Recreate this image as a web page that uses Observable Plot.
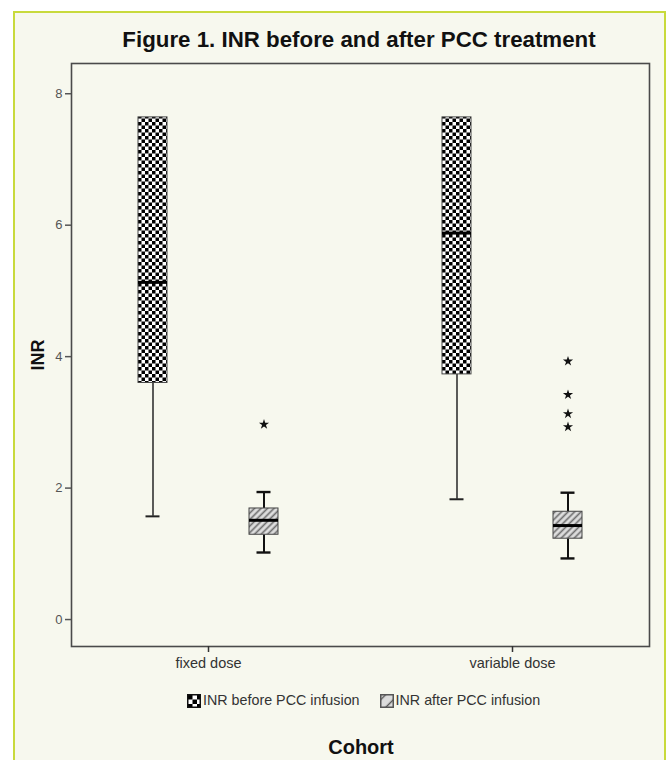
<!DOCTYPE html>
<html><head><meta charset="utf-8">
<script src="https://cdn.jsdelivr.net/npm/d3@7"></script>
<script src="https://cdn.jsdelivr.net/npm/@observablehq/plot@0.6"></script>
<style>
html,body{margin:0;padding:0;background:#fff;overflow:hidden;width:672px;height:760px;}
body{font-family:"Liberation Sans",Arial,sans-serif;position:relative;}
#card{position:absolute;left:13px;top:11px;width:653px;height:760px;box-sizing:border-box;border:2px solid #c8da3c;border-bottom:none;background:#f7f8ee;}
#title{position:absolute;left:359px;top:28px;transform:translateX(-50%);white-space:nowrap;font-weight:bold;font-size:22.3px;line-height:24px;color:#111;}
#chart{position:absolute;left:0;top:52px;}
#legend{position:absolute;left:187px;top:692px;display:flex;align-items:center;font-size:14.3px;color:#333;line-height:17px;white-space:nowrap;}
#legend svg{display:block;}
#xlabel{position:absolute;left:361px;top:735px;transform:translateX(-50%);font-weight:bold;font-size:20px;line-height:24px;color:#111;}
#chart g[aria-label="y-axis label"] text{font-weight:bold;font-size:18px;fill:#111;}
</style>
</head><body>
<svg width="0" height="0" style="position:absolute;left:0;top:0">
<defs>
<pattern id="chk" patternUnits="userSpaceOnUse" width="7" height="7">
 <rect width="7" height="7" fill="#fff"/>
 <rect width="3.5" height="3.5" fill="#000"/>
 <rect x="3.5" y="3.5" width="3.5" height="3.5" fill="#000"/>
</pattern>
<pattern id="hat" patternUnits="userSpaceOnUse" width="4.6" height="4.6" patternTransform="rotate(45)">
 <rect width="4.6" height="4.6" fill="#dedede"/>
 <line x1="2.3" y1="-1" x2="2.3" y2="6" stroke="#6a6a6a" stroke-width="1.6"/>
</pattern>
<pattern id="chkL" patternUnits="userSpaceOnUse" width="9" height="9" x="1" y="1">
 <rect width="9" height="9" fill="#fff"/>
 <rect width="4.5" height="4.5" fill="#000"/>
 <rect x="4.5" y="4.5" width="4.5" height="4.5" fill="#000"/>
</pattern>
<pattern id="hatL" patternUnits="userSpaceOnUse" width="9" height="9" patternTransform="rotate(45)">
 <rect width="9" height="9" fill="#dcdcdc"/>
 <line x1="4.5" y1="-1" x2="4.5" y2="10" stroke="#555" stroke-width="1.4"/>
</pattern>
</defs></svg>
<div id="card"></div>
<div id="title">Figure 1. INR before and after PCC treatment</div>
<div id="chart"></div>
<div id="legend"></div>
<div id="xlabel">Cohort</div>
<script>
const cohorts = ["fixed dose", "variable dose"];
const series = ["INR before PCC infusion", "INR after PCC infusion"];
const yTicks = [0, 2, 4, 6, 8];

// one entry per box: fixed-before, fixed-after, variable-before, variable-after
const boxCohort = ["fixed dose", "fixed dose", "variable dose", "variable dose"];
const boxSeries = [series[0], series[1], series[0], series[1]];
const whiskerLow = [1.57, 1.02, 1.83, 0.93];
const quartile1 = [3.6, 1.29, 3.73, 1.23];
const median = [5.13, 1.51, 5.88, 1.43];
const quartile3 = [7.64, 1.69, 7.64, 1.64];
const whiskerHigh = [7.64, 1.94, 7.64, 1.93];

const outlierCohort = ["fixed dose", "variable dose", "variable dose", "variable dose", "variable dose"];
const outlierValues = [2.97, 3.93, 3.42, 3.13, 2.93];

const boxes = boxCohort.map((c, i) => ({
  cohort: c, series: boxSeries[i], lo: whiskerLow[i], q1: quartile1[i],
  med: median[i], q3: quartile3[i], hi: whiskerHigh[i]
}));
const outliers = outlierCohort.map((c, i) => ({cohort: c, series: series[1], value: outlierValues[i]}));
const before = boxes.filter(d => d.series === series[0]);
const after = boxes.filter(d => d.series === series[1]);

const chart = Plot.plot({
  width: 672,
  height: 636,
  marginLeft: 66,
  marginRight: 19,
  marginTop: 11,
  marginBottom: 42,
  style: {background: "transparent", fontFamily: "'Liberation Sans', Arial, sans-serif", overflow: "visible"},
  fx: {domain: cohorts, paddingInner: 0.1, paddingOuter: 0.013, label: null},
  x: {domain: series, axis: null, paddingInner: 0.741, paddingOuter: 0.594},
  y: {domain: [-0.41, 8.46], label: null},
  color: {domain: series, range: ["url(#chk)", "url(#hat)"]},
  marks: [
    Plot.frame({facet: "super", stroke: "#4a4a4a", strokeWidth: 1.6}),
    Plot.ruleX(before, {fx: "cohort", x: "series", y1: "lo", y2: "q1", stroke: "#333", strokeWidth: 1.6}),
    Plot.ruleX(after, {fx: "cohort", x: "series", y1: "lo", y2: "q1", stroke: "#111", strokeWidth: 2}),
    Plot.ruleX(after, {fx: "cohort", x: "series", y1: "q3", y2: "hi", stroke: "#111", strokeWidth: 2}),
    Plot.tickY(before, {fx: "cohort", x: "series", y: "lo", insetLeft: 7.5, insetRight: 7.5, stroke: "#222", strokeWidth: 2}),
    Plot.tickY(after, {fx: "cohort", x: "series", y: "lo", insetLeft: 7.5, insetRight: 7.5, stroke: "#111", strokeWidth: 2.4}),
    Plot.tickY(after, {fx: "cohort", x: "series", y: "hi", insetLeft: 7.5, insetRight: 7.5, stroke: "#111", strokeWidth: 2.4}),
    Plot.barY(boxes, {fx: "cohort", x: "series", y1: "q1", y2: "q3", fill: "series", stroke: "#444", strokeWidth: 1}),
    Plot.tickY(boxes, {fx: "cohort", x: "series", y: "med", stroke: "#000", strokeWidth: 3}),
    Plot.dot(outliers, {fx: "cohort", x: "series", y: "value", symbol: "star", r: 3.2, fill: "#111", stroke: "none"}),
    Plot.axisY({ticks: yTicks, tickSize: 6, tickPadding: 3, fontSize: 13, color: "#555", strokeWidth: 1.5,
      label: "INR", labelAnchor: "center", labelOffset: 40, labelArrow: false}),
    Plot.axisFx({anchor: "bottom", tickSize: 6, tickPadding: 5, fontSize: 14.5, color: "#333", strokeWidth: 1.5, label: null})
  ]
});
document.getElementById("chart").appendChild(chart);

// legend
const legend = document.getElementById("legend");
const swatchFill = ["url(#chkL)", "url(#hatL)"];
series.forEach((s, i) => {
  const sw = document.createElementNS("http://www.w3.org/2000/svg", "svg");
  sw.setAttribute("width", 14); sw.setAttribute("height", 14);
  if (i > 0) sw.style.marginLeft = "20px";
  const r = document.createElementNS("http://www.w3.org/2000/svg", "rect");
  r.setAttribute("x", 0.75); r.setAttribute("y", 0.75); r.setAttribute("width", 12.5); r.setAttribute("height", 12.5);
  r.setAttribute("fill", swatchFill[i]); r.setAttribute("stroke", i === 0 ? "#111" : "#555"); r.setAttribute("stroke-width", 1.5);
  sw.appendChild(r);
  legend.appendChild(sw);
  const t = document.createElement("span");
  t.textContent = s; t.style.marginLeft = "2px";
  legend.appendChild(t);
});
</script>
</body></html>
